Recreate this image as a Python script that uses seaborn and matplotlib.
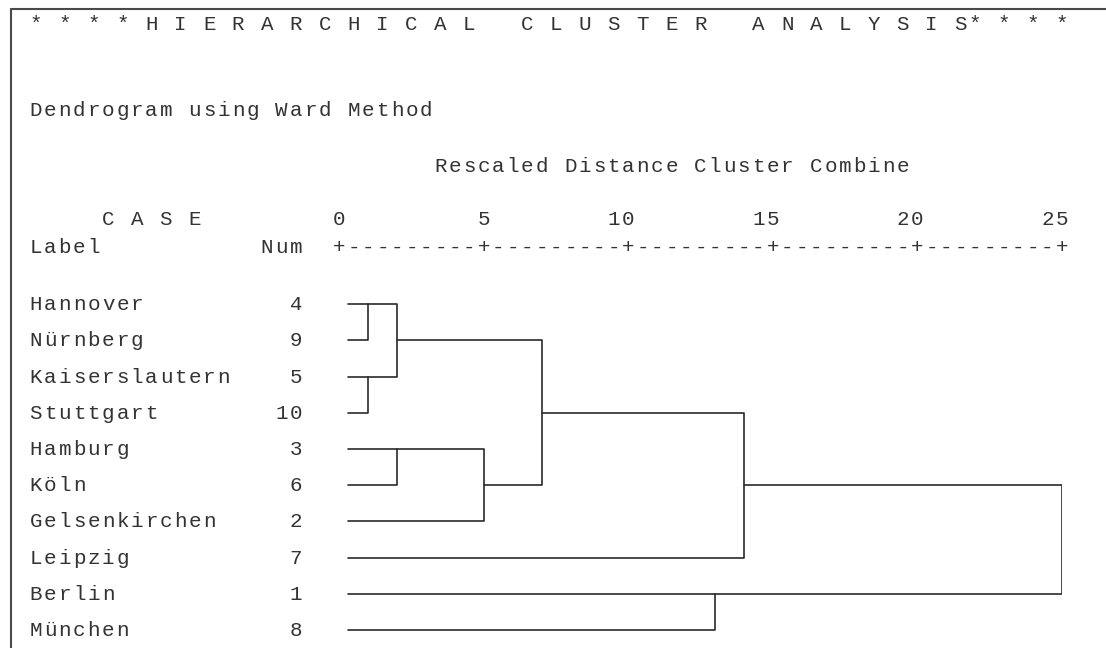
import matplotlib
matplotlib.use("Agg")
import matplotlib.pyplot as plt
import matplotlib.transforms as mtransforms
import seaborn as sns
import pandas as pd

# cases in dendrogram order (top to bottom)
labels = ['Hannover', 'Nürnberg', 'Kaiserslautern', 'Stuttgart', 'Hamburg',
          'Köln', 'Gelsenkirchen', 'Leipzig', 'Berlin', 'München']
case_num = [4, 9, 5, 10, 3, 6, 2, 7, 1, 8]

# agglomeration steps: ids 0-9 are the rows above, 10+ the new clusters
merge_a = [0, 2, 10, 4, 13, 12, 15, 8, 16]
merge_b = [1, 3, 11, 5, 6, 14, 7, 9, 17]
merge_dist = [1, 1, 2, 2, 5, 7, 14, 13, 25]

ticks = [0, 5, 10, 15, 20, 25]

title = '* * * * H I E R A R C H I C A L   C L U S T E R   A N A L Y S I S* * * *'
subtitle = 'Dendrogram using Ward Method'
axis_title = 'Rescaled Distance Cluster Combine'

W, H = 1106, 648
CW = 14.45      # width of one character cell (px)
X0 = 28.6       # left edge of column 0 (px)
LEAF_X = 0.29   # where the leaf lines start
FS = 15
INK = '#333333'

sns.set_theme(style='white')
plt.rcParams['font.family'] = ['Liberation Mono', 'DejaVu Sans Mono']

fig = plt.figure(figsize=(W / 100, H / 100), dpi=100)
fig.patch.set_facecolor('white')

# pixel canvas for the text-mode layout
bg = fig.add_axes([0, 0, 1, 1])
bg.set_xlim(0, W)
bg.set_ylim(H, 0)
bg.set_axis_off()

# dendrogram axes: x = rescaled distance, y = row
dax = fig.add_axes([339.3 / W, 0, (1061.7 - 339.3) / W, (H - 286) / H])
dax.patch.set_alpha(0)


def put(col, base, s, ax=bg, transform=None):
    # monospace text, one glyph per character cell
    tr = transform if transform is not None else ax.transData
    for i, ch in enumerate(s):
        if ch != ' ':
            ax.text(X0 + (col + i + 0.5) * CW, base, ch, ha='center',
                    va='baseline', fontsize=FS, color=INK, transform=tr)


# frame of the output window
bg.plot([11, W], [9.3, 9.3], color='#4a4a4a', lw=1.5)
bg.plot([11, 11], [9.3, H], color='#4a4a4a', lw=1.5)

put(0, 30, title)
put(0, 116, subtitle)
put(28, 172, axis_title)
put(5, 225, 'C A S E')
put(0, 253, 'Label')
put(16, 253, 'Num')

# build the dendrogram segments
n = len(labels)
rows = {i: i for i in range(n)}
xs = {i: LEAF_X for i in range(n)}
recs = []
for k, (a, b, d) in enumerate(zip(merge_a, merge_b, merge_dist)):
    ra, rb = rows[a], rows[b]
    for x, y in [(xs[a], ra), (d, ra), (d, rb), (xs[b], rb)]:
        recs.append({'seg': k, 'x': x, 'y': y})
    rows[n + k] = (ra + rb) // 2
    xs[n + k] = d
df = pd.DataFrame(recs)

sns.lineplot(data=df, x='x', y='y', units='seg', estimator=None, sort=False,
             color='#2a2a2a', lw=1.2, ax=dax, legend=False)
dax.set_xlim(0, 25)
dax.set_ylim(n - 0.5, -0.5)
dax.set_axis_off()

# ruler and scale numbers, placed on the distance scale
xd_ypx = mtransforms.blended_transform_factory(dax.transData, bg.transData)
for t in ticks:
    bg.text(t, 253, '+', ha='center', va='baseline', fontsize=FS, color=INK,
            transform=xd_ypx)
    s = str(t)
    for j, ch in enumerate(s):
        bg.text(t - 0.5 * (len(s) - 1 - j), 225, ch, ha='center', va='baseline',
                fontsize=FS, color=INK, transform=xd_ypx)
for t0, t1 in zip(ticks[:-1], ticks[1:]):
    steps = int((t1 - t0) * 2)
    for j in range(1, steps):
        bg.text(t0 + 0.5 * j, 253, '-', ha='center', va='baseline', fontsize=FS,
                color=INK, transform=xd_ypx)

# case labels and numbers, one per row
xpx_yrow = mtransforms.blended_transform_factory(bg.transData, dax.transData)
for i, (lab, num) in enumerate(zip(labels, case_num)):
    put(0, i + 0.17, lab, transform=xpx_yrow)
    s = str(num)
    put(19 - len(s), i + 0.17, s, transform=xpx_yrow)

fig.savefig('out.png', dpi=100)
